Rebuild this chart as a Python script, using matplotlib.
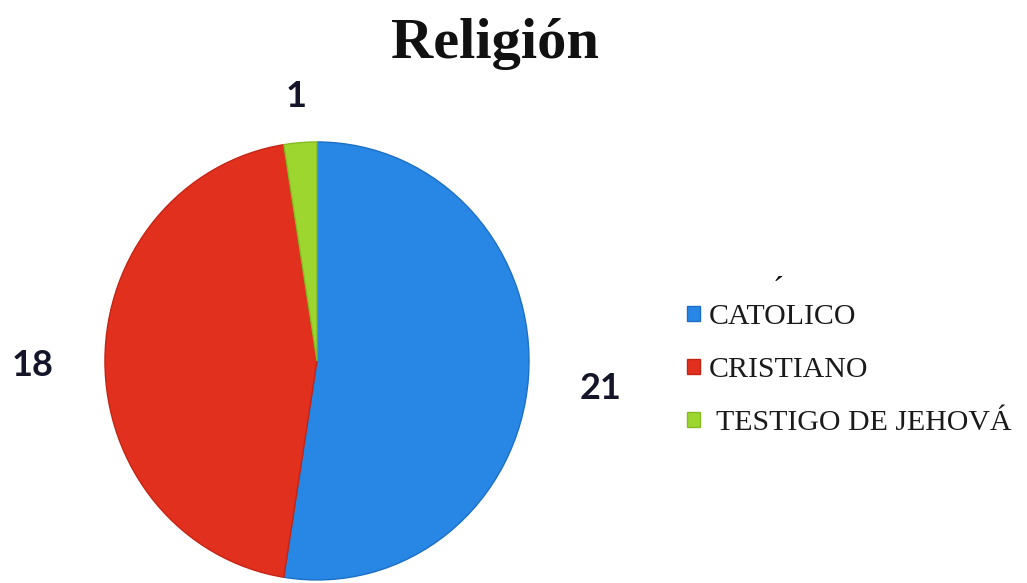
import numpy as np
import matplotlib.pyplot as plt

# datos de la encuesta
categorias = ['CATOLICO', 'CRISTIANO', ' TESTIGO DE JEHOVÁ']
valores = [21, 18, 1]
colores = ['#2886e4', '#e2301f', '#9dd62e']
bordes = ['#1c6fc4', '#c42414', '#86bb22']
dist_etiquetas = [1.34, 1.34, 1.23]

fig = plt.figure(figsize=(10.27, 5.83), dpi=100)
ax = fig.add_axes([0.1022, 0.0052, 0.4129, 0.7513])

wedges, _ = ax.pie(valores, colors=colores, startangle=90, counterclock=False,
                   wedgeprops=dict(linewidth=1.0))
for w, b in zip(wedges, bordes):
    w.set_edgecolor(b)
ax.set_aspect('auto')
ax.set_xlim(-1, 1)
ax.set_ylim(-1, 1)

# valores al lado de cada sector
for w, v, r in zip(wedges, valores, dist_etiquetas):
    ang = np.deg2rad((w.theta1 + w.theta2) / 2)
    ax.text(r * np.cos(ang), r * np.sin(ang) - 0.02, str(v), ha='center', va='center',
            fontsize=26, family='Lato', fontweight='bold', color='#15152a')

fig.text(0.482, 0.925, 'Religión', ha='center', va='center', fontsize=42,
         family='Liberation Serif', fontweight='bold', color='#111111')

leg = fig.legend(wedges, categorias, loc='center left', bbox_to_anchor=(0.643, 0.365),
                 frameon=False, handlelength=0.42, handleheight=0.42,
                 handletextpad=0.3, labelspacing=0.9,
                 prop=dict(family='Liberation Serif', size=21.5))
for t in leg.get_texts():
    t.set_color('#1a1a1a')

# acento suelto sobre la leyenda
fig.text(0.758, 0.50, '´', ha='center', va='center', fontsize=24,
         family='Liberation Serif', color='#111111')

fig.savefig('out.png', dpi=100, facecolor='white')
